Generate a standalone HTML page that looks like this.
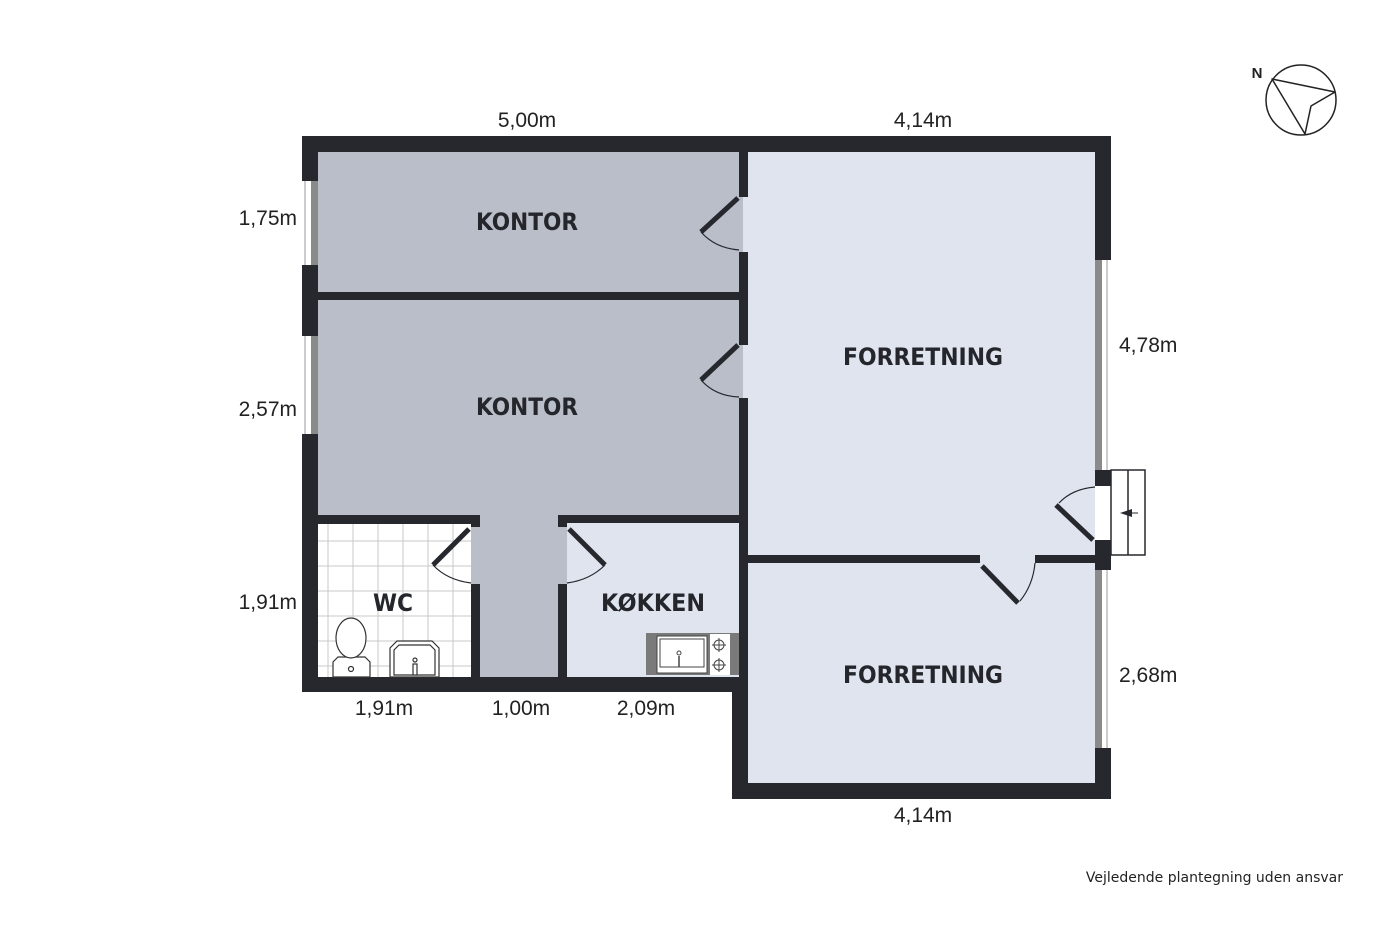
<!DOCTYPE html>
<html><head><meta charset="utf-8"><style>
html,body{margin:0;padding:0;background:#fff;}
svg{display:block}
.d{font-family:"Liberation Sans",sans-serif;font-size:21px;fill:#222;}
.r{font-family:"DejaVu Sans","Liberation Sans",sans-serif;font-weight:bold;font-size:24px;fill:#24262c;}
</style></head><body>
<svg width="1400" height="933" viewBox="0 0 1400 933" xmlns="http://www.w3.org/2000/svg">
<rect x="318" y="152" width="425" height="366" fill="#b9bec9"/>
<rect x="471" y="515" width="96" height="165" fill="#b9bec9"/>
<rect x="743" y="152" width="355" height="635" fill="#dfe4ee"/>
<rect x="567" y="518" width="176" height="162" fill="#dfe4ee"/>
<rect x="318" y="520" width="153" height="160" fill="#fff"/>
<g stroke="#c8c8c8" stroke-width="1">
<line x1="328" y1="520" x2="328" y2="677"/><line x1="353" y1="520" x2="353" y2="677"/><line x1="378" y1="520" x2="378" y2="677"/><line x1="403" y1="520" x2="403" y2="677"/><line x1="428" y1="520" x2="428" y2="677"/><line x1="453" y1="520" x2="453" y2="677"/>
<line x1="318" y1="541" x2="471" y2="541"/><line x1="318" y1="566" x2="471" y2="566"/><line x1="318" y1="591" x2="471" y2="591"/><line x1="318" y1="616" x2="471" y2="616"/><line x1="318" y1="641" x2="471" y2="641"/><line x1="318" y1="666" x2="471" y2="666"/>
</g>
<g fill="#26282e">
<rect x="302" y="136" width="809" height="16"/>
<rect x="302" y="136" width="16" height="556"/>
<rect x="302" y="677" width="446" height="15"/>
<rect x="732" y="677" width="16" height="122"/>
<rect x="732" y="783" width="379" height="16"/>
<rect x="1095" y="136" width="16" height="663"/>
<rect x="739" y="152" width="9" height="45"/>
<rect x="739" y="252" width="9" height="93"/>
<rect x="739" y="398" width="9" height="280"/>
<rect x="318" y="292" width="421" height="8"/>
<rect x="318" y="515" width="162" height="9"/>
<rect x="471" y="515" width="9" height="12"/>
<rect x="471" y="584" width="9" height="93"/>
<rect x="558" y="515" width="185" height="8"/>
<rect x="558" y="515" width="9" height="12"/>
<rect x="558" y="584" width="9" height="93"/>
<rect x="748" y="555" width="232" height="8"/>
<rect x="1035" y="555" width="60" height="8"/>
</g>
<g>
<rect x="302" y="181" width="16" height="84" fill="#fff"/><rect x="311" y="181" width="7" height="84" fill="#8a8a8a"/><line x1="305" y1="181" x2="305" y2="265" stroke="#999"/>
<rect x="302" y="336" width="16" height="98" fill="#fff"/><rect x="311" y="336" width="7" height="98" fill="#8a8a8a"/><line x1="305" y1="336" x2="305" y2="434" stroke="#999"/>
<rect x="1095" y="260" width="16" height="210" fill="#fff"/><rect x="1095" y="260" width="7" height="210" fill="#8a8a8a"/><line x1="1107" y1="260" x2="1107" y2="470" stroke="#999"/>
<rect x="1095" y="570" width="16" height="178" fill="#fff"/><rect x="1095" y="570" width="7" height="178" fill="#8a8a8a"/><line x1="1107" y1="570" x2="1107" y2="748" stroke="#999"/>
<rect x="1095" y="486" width="16" height="54" fill="#fff"/>
</g>
<rect x="1095" y="470" width="16" height="16" fill="#26282e"/>
<rect x="1095" y="540" width="16" height="30" fill="#26282e"/>
<rect x="1111" y="470" width="34" height="85" fill="none" stroke="#26282e" stroke-width="1.5"/>
<line x1="1128" y1="470" x2="1128" y2="555" stroke="#26282e" stroke-width="1.5"/>
<path d="M1120 513 L1132 509 L1132 517 Z" fill="#26282e"/><line x1="1122" y1="513" x2="1138" y2="513" stroke="#26282e"/>
<g stroke="#26282e" fill="none">
<line x1="738" y1="198" x2="701" y2="232" stroke-width="5"/><path d="M701 232 Q715 248 739 250" stroke-width="1.2"/>
<line x1="738" y1="345" x2="701" y2="380" stroke-width="5"/><path d="M701 380 Q715 396 739 397" stroke-width="1.2"/>
<line x1="469" y1="529" x2="433" y2="565" stroke-width="5"/><path d="M433 565 Q447 580 471 583" stroke-width="1.2"/>
<line x1="569" y1="529" x2="605" y2="565" stroke-width="5"/><path d="M605 565 Q590 580 567 583" stroke-width="1.2"/>
<line x1="1093" y1="540" x2="1056" y2="505" stroke-width="5"/><path d="M1059 503 Q1072 489 1095 487" stroke-width="1.2"/>
<line x1="982" y1="566" x2="1018" y2="603" stroke-width="5"/><path d="M1020 601 Q1033 585 1035 563" stroke-width="1.2"/>
</g>
<g stroke="#333" stroke-width="1.2" fill="#fff">
<path d="M333 677 L333 662 L338 657 L365 657 L370 662 L370 677 Z"/>
<ellipse cx="351" cy="638" rx="15" ry="20"/>
<circle cx="351" cy="669" r="2.5"/>
<path d="M390 677 L390 648 L397 641 L432 641 L439 648 L439 677 Z"/>
<path d="M394 675 L394 650 L399 645 L430 645 L435 650 L435 675 Z" fill="none"/>
<circle cx="415" cy="660" r="2"/><rect x="413" y="664" width="4" height="11"/>
</g>
<rect x="646" y="633" width="93" height="42" fill="#7a7a7a"/>
<rect x="657" y="636" width="50" height="37" fill="#fff" stroke="#444" stroke-width="1"/>
<rect x="660" y="639" width="44" height="28" fill="none" stroke="#444" stroke-width="1"/>
<circle cx="679" cy="653" r="2" fill="none" stroke="#444"/><line x1="679" y1="656" x2="679" y2="667" stroke="#444" stroke-width="1.5"/><line x1="673" y1="667" x2="685" y2="667" stroke="#444"/>
<rect x="710" y="634" width="20" height="41" fill="#fff"/>
<g fill="none" stroke="#444" stroke-width="1"><circle cx="719" cy="645" r="5"/><circle cx="719" cy="665" r="5"/><path d="M712 645h14M719 638v14M712 665h14M719 658v14"/></g>
<text class="r" x="476" y="230" textLength="102" lengthAdjust="spacingAndGlyphs">KONTOR</text>
<text class="r" x="476" y="415" textLength="102" lengthAdjust="spacingAndGlyphs">KONTOR</text>
<text class="r" x="843" y="365" textLength="160" lengthAdjust="spacingAndGlyphs">FORRETNING</text>
<text class="r" x="843" y="683" textLength="160" lengthAdjust="spacingAndGlyphs">FORRETNING</text>
<text class="r" x="373" y="611" textLength="40" lengthAdjust="spacingAndGlyphs">WC</text>
<text class="r" x="601" y="611" textLength="104" lengthAdjust="spacingAndGlyphs">KØKKEN</text>
<text class="d" x="527" y="127" text-anchor="middle">5,00m</text>
<text class="d" x="923" y="127" text-anchor="middle">4,14m</text>
<text class="d" x="297" y="225" text-anchor="end">1,75m</text>
<text class="d" x="297" y="416" text-anchor="end">2,57m</text>
<text class="d" x="297" y="609" text-anchor="end">1,91m</text>
<text class="d" x="1119" y="352">4,78m</text>
<text class="d" x="1119" y="682">2,68m</text>
<text class="d" x="384" y="715" text-anchor="middle">1,91m</text>
<text class="d" x="521" y="715" text-anchor="middle">1,00m</text>
<text class="d" x="646" y="715" text-anchor="middle">2,09m</text>
<text class="d" x="923" y="822" text-anchor="middle">4,14m</text>
<text x="1343" y="882" text-anchor="end" style="font-family:'DejaVu Sans','Liberation Sans',sans-serif;font-size:14px;fill:#222">Vejledende plantegning uden ansvar</text>
<circle cx="1301" cy="100" r="35" fill="none" stroke="#222" stroke-width="1.5"/>
<path d="M1272 79 L1335 92 L1311 106 L1305 134 Z" fill="none" stroke="#222" stroke-width="1.5" stroke-linejoin="round"/>
<text x="1257" y="78" text-anchor="middle" style="font-family:'Liberation Sans',sans-serif;font-weight:bold;font-size:15px;fill:#222">N</text>
</svg>
</body></html>
